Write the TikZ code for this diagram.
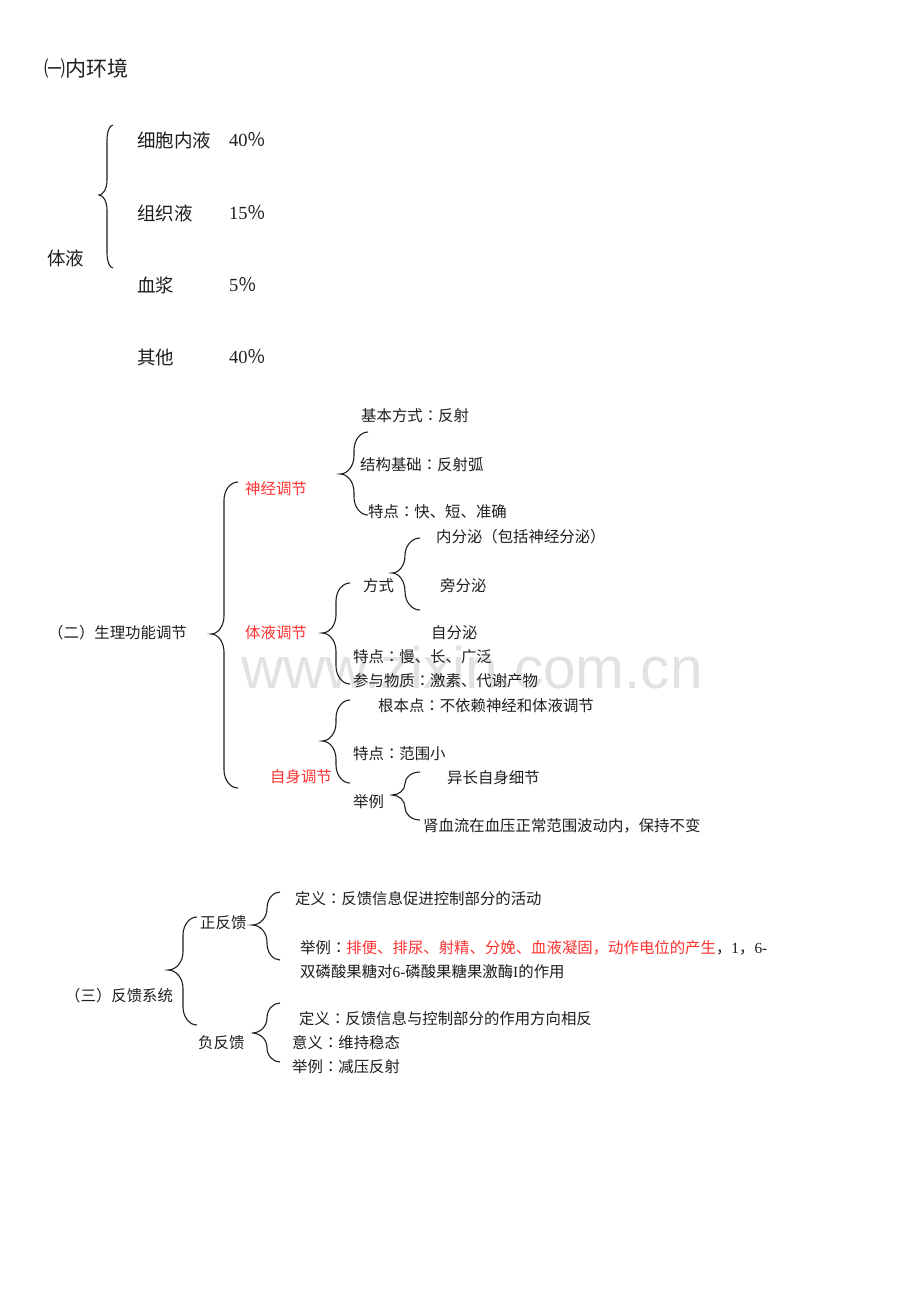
\documentclass[tikz,border=0pt]{standalone}
\usepackage{fontspec}
\setmainfont{Noto Sans CJK SC}
\newfontfamily\tcf{Noto Sans CJK TC}
\newfontfamily\ser{Liberation Serif}
\newfontfamily\wmf{Liberation Sans}
\newcommand\cl{{\tcf ：}}
\definecolor{txt}{RGB}{30,30,30}
\definecolor{rd}{RGB}{255,51,51}
\definecolor{wmc}{RGB}{226,226,226}
\newcommand\cbrace[6]{% xend, xv, xtip, ytop, ytip, ybot
 \pgfmathsetmacro\rA{min(max(1.3*(#1-#2),15),(#5-#4)/2)}%
 \pgfmathsetmacro\rB{min(max(1.3*(#1-#2),15),(#6-#5)/2)}%
 \pgfmathsetmacro\hA{#1-#2}%
 \pgfmathsetmacro\hB{#2-#3}%
 \draw[brc] (#1,#4)
   .. controls (#1-0.552*\hA,#4) and (#2,#4+0.448*\rA) .. (#2,#4+\rA)
   -- (#2,#5-\rA)
   .. controls (#2,#5-0.448*\rA) and (#3+0.552*\hB,#5) .. (#3,#5)
   .. controls (#3+0.552*\hB,#5) and (#2,#5+0.448*\rB) .. (#2,#5+\rB)
   -- (#2,#6-\rB)
   .. controls (#2,#6-0.448*\rB) and (#1-0.552*\hA,#6) .. (#1,#6);%
}
\tikzset{
 lbl/.style={anchor=west, inner sep=0pt, text=txt, font=\fontsize{15.4}{16}\selectfont},
 big/.style={lbl, font=\fontsize{18.5}{19}\selectfont},
 hl/.style={lbl, text=rd},
 brc/.style={line width=1.1pt, draw=txt},
}
\begin{document}
\begin{tikzpicture}[x=1pt,y=-1pt]
\useasboundingbox[fill=white] (0,0) rectangle (920,1302);
% watermark
\node[anchor=base, inner sep=0pt, text=wmc, font=\wmf\fontsize{58.5}{60}\selectfont] (wm) at (472,688) {www.zixin.com.cn};
% section 1
\node[lbl, font=\fontsize{21}{22}\selectfont] (t1) at (44,68) {㈠内环境};
\node[big] (tiye) at (47,258) {体液};
\node[big] (a1) at (137,140) {细胞内液};
\node[big] (p1) at (229,140) {{\ser 40}％};
\node[big] (a2) at (137,213) {组织液};
\node[big] (p2) at (229,213) {{\ser 15}％};
\node[big] (a3) at (137,285) {血浆};
\node[big] (p3) at (229,285) {{\ser 5}％};
\node[big] (a4) at (137,357) {其他};
\node[big] (p4) at (229,357) {{\ser 40}％};
\cbrace{113}{107}{99}{125}{195}{268}
% section 2
\node[lbl] (s2) at (48,633) {（二）生理功能调节};
\node[hl] (sj) at (245,489) {神经调节};
\node[hl] (ty) at (245,633) {体液调节};
\node[hl] (zs) at (270,777) {自身调节};
\cbrace{238}{224}{211}{482}{634}{788}
\node[lbl] (sj1) at (361,416) {基本方式\cl 反射};
\node[lbl] (sj2) at (360,465) {结构基础\cl 反射弧};
\node[lbl] (sj3) at (368,512) {特点\cl 快、短、准确};
\cbrace{368}{354}{340}{432}{474}{515}
\node[lbl] (fs1) at (436,537) {内分泌（包括神经分泌）};
\node[lbl] (fs) at (363,586) {方式};
\node[lbl] (fs2) at (440,586) {旁分泌};
\node[lbl] (fs3) at (431,633) {自分泌};
\cbrace{420}{405}{392}{538}{573}{610}
\node[lbl] (ty2) at (353,657) {特点\cl 慢、长、广泛};
\node[lbl] (ty3) at (353,681) {参与物质\cl 激素、代谢产物};
\cbrace{350}{336}{322}{583}{633}{684}
\node[lbl] (zs1) at (378,706) {根本点\cl 不依赖神经和体液调节};
\node[lbl] (zs2) at (353,754) {特点\cl 范围小};
\node[lbl] (zs3) at (353,802) {举例};
\cbrace{350}{336}{322}{700}{741}{783}
\node[lbl] (ex1) at (447,778) {异长自身细节};
\node[lbl] (ex2) at (423,826) {肾血流在血压正常范围波动内，保持不变};
\cbrace{420}{405}{392}{772}{795}{820}
% section 3
\node[lbl] (s3) at (65,996) {（三）反馈系统};
\cbrace{197}{183}{168}{917}{970}{1025}
\node[lbl] (zf) at (200,923) {正反馈};
\cbrace{280}{267}{252}{892}{925}{960}
\node[lbl] (zf1) at (295,899) {定义\cl 反馈信息促进控制部分的活动};
\node[lbl] (zf2) at (300,948) {举例\cl \textcolor{rd}{排便、排尿、射精、分娩、血液凝固，动作电位的产生}，{\ser 1}，{\ser 6-}};
\node[lbl] (zf3) at (300,972) {双磷酸果糖对{\ser 6-}磷酸果糖果激酶{\ser I}的作用};
\node[lbl] (ff) at (198,1043) {负反馈};
\cbrace{280}{267}{252}{1003}{1033}{1062}
\node[lbl] (ff1) at (299,1019) {定义\cl 反馈信息与控制部分的作用方向相反};
\node[lbl] (ff2) at (292,1043) {意义\cl 维持稳态};
\node[lbl] (ff3) at (292,1067) {举例\cl 减压反射};
\end{tikzpicture}
\end{document}
